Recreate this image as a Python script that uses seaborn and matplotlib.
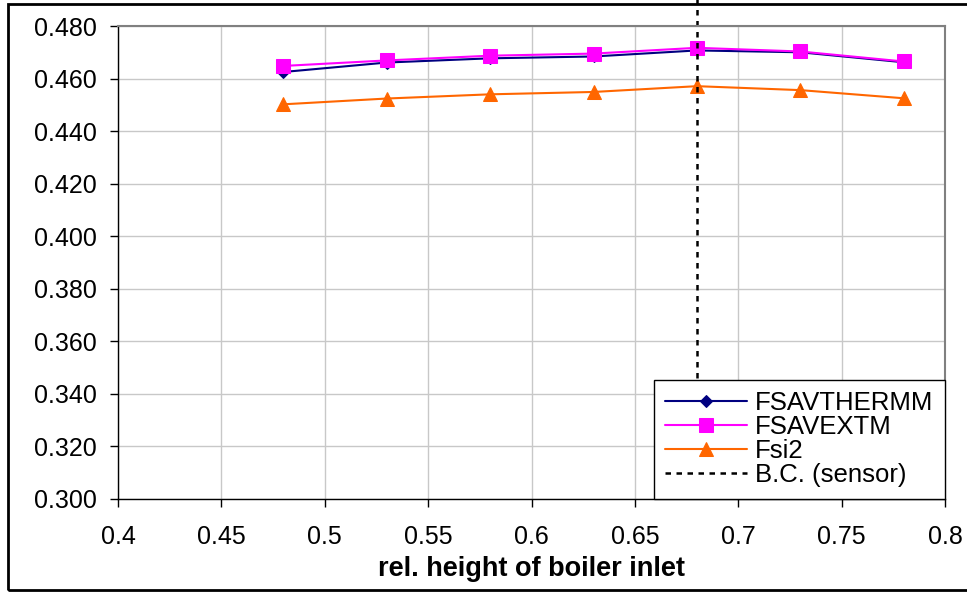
import pandas as pd
import matplotlib.pyplot as plt
import seaborn as sns
from matplotlib.patches import Rectangle

# data
rel_height = [0.48, 0.53, 0.58, 0.63, 0.68, 0.73, 0.78]
fsav_thermm = [0.4625, 0.4661, 0.4677, 0.4684, 0.4707, 0.4700, 0.4662]
fsav_extm = [0.4648, 0.4669, 0.4687, 0.4695, 0.4717, 0.4703, 0.4665]
fsi2 = [0.4502, 0.4524, 0.4540, 0.4549, 0.4571, 0.4556, 0.4525]
sensor_x = 0.68

sns.set_style("white", rc={'text.color': 'black', 'xtick.color': 'black',
                           'ytick.color': 'black', 'axes.labelcolor': 'black'})
plt.rcParams['font.family'] = ['Liberation Sans', 'DejaVu Sans']

fig = plt.figure(figsize=(9.67, 5.94), dpi=100)
ax = fig.add_axes([118 / 967, 1 - 499 / 594, (945 - 118) / 967, (499 - 26) / 594])

# outer chart border (right side runs off the picture, as in the original)
fig.patches.append(Rectangle((8 / 967, 4 / 594), 980 / 967, 586 / 594, transform=fig.transFigure,
                             fill=False, edgecolor='black', linewidth=2, zorder=0))

sns.lineplot(x=rel_height, y=fsav_thermm, ax=ax, color='#000080', marker='D', markersize=6.5,
             markeredgecolor='#000080', linewidth=1.5, label='FSAVTHERMM')
sns.lineplot(x=rel_height, y=fsav_extm, ax=ax, color='#FF00FF', marker='s', markersize=9.5,
             markeredgecolor='#FF00FF', linewidth=1.5, label='FSAVEXTM')
sns.lineplot(x=rel_height, y=fsi2, ax=ax, color='#FF6600', marker='^', markersize=10,
             markeredgecolor='#FF6600', linewidth=1.5, label='Fsi2')
ax.axvline(sensor_x, ymin=0, ymax=1.06, color='black', linestyle=(0, (2.2, 2.2)), linewidth=1.8,
           clip_on=False, label='B.C. (sensor)')

ax.set_xlim(0.4, 0.8)
ax.set_ylim(0.300, 0.480)
ax.set_xticks([0.4, 0.45, 0.5, 0.55, 0.6, 0.65, 0.7, 0.75, 0.8])
ax.set_xticklabels(['0.4', '0.45', '0.5', '0.55', '0.6', '0.65', '0.7', '0.75', '0.8'])
ax.set_yticks([0.30 + 0.02 * i for i in range(10)])
ax.set_yticklabels([f'{0.30 + 0.02 * i:.3f}' for i in range(10)])
ax.tick_params(axis='both', labelsize=18, length=6, width=1, direction='out', color='black',
               labelcolor='black', left=True, bottom=True)
ax.tick_params(axis='y', pad=9.5)
ax.tick_params(axis='x', pad=13)
ax.grid(True, color='#c8c8c8', linewidth=1)
ax.set_axisbelow(True)

for side in ['left', 'bottom']:
    ax.spines[side].set_color('black')
    ax.spines[side].set_linewidth(1)
for side in ['top', 'right']:
    ax.spines[side].set_color('#808080')
    ax.spines[side].set_linewidth(1.5)

ax.set_xlabel('rel. height of boiler inlet', fontsize=19.5, fontweight='bold', labelpad=5,
              color='black')
ax.set_ylabel('')

leg = ax.legend(loc='lower right', bbox_to_anchor=(1, 0), borderaxespad=0, fontsize=18.5,
                handlelength=3.2, labelspacing=0, handletextpad=0.3, borderpad=0.45,
                fancybox=False, framealpha=1, edgecolor='black', labelcolor='black')
leg.get_frame().set_linewidth(1)

plt.savefig('out.png', dpi=100)
plt.close()
